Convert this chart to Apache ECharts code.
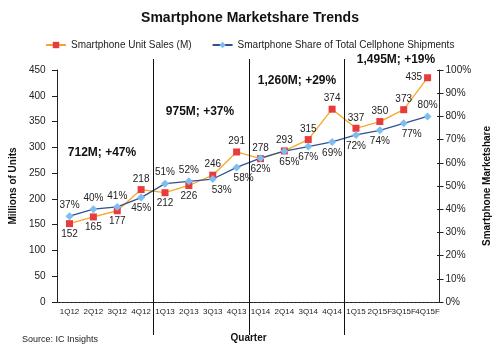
<!DOCTYPE html>
<html>
<head>
<meta charset="utf-8">
<style>
  html, body { margin: 0; padding: 0; background: #fff; }
  #chart { width: 500px; height: 354px; }
</style>
<script src="https://cdn.jsdelivr.net/npm/echarts@6/dist/echarts.min.js"></script>
</head>
<body>
<div id="chart"></div>
<script>
const quarters = ["1Q12", "2Q12", "3Q12", "4Q12", "1Q13", "2Q13", "3Q13", "4Q13",
  "1Q14", "2Q14", "3Q14", "4Q14", "1Q15", "2Q15F", "3Q15F", "4Q15F"];
const unitSales = [152, 165, 177, 218, 212, 226, 246, 291, 278, 293, 315, 374, 337, 350, 373, 435];
const shareOfShipments = [37, 40, 41, 45, 51, 52, 53, 58, 62, 65, 67, 69, 72, 74, 77, 80];
const yearTotals = ["712M; +47%", "975M; +37%", "1,260M; +29%", "1,495M; +19%"];

const font = "Liberation Sans, Arial, sans-serif";
const chart = echarts.init(document.getElementById("chart"));

// which labels sit below the point (the rest go above)
const salesBelow = [0, 1, 2, 4, 5];
const shareAbove = [0, 1, 2, 4, 5, 15];
const shareShift = { 6: 9, 7: 7, 9: 5, 14: 8 };

const salesData = unitSales.map((v, i) => ({
  value: v,
  label: { position: i === 15 ? "left" : salesBelow.includes(i) ? "bottom" : "top" },
}));
const shareData = shareOfShipments.map((v, i) => ({
  value: v,
  label: {
    position: shareAbove.includes(i) ? "top" : "bottom",
    offset: [shareShift[i] || 0, 0],
  },
}));

const labelStyle = { show: true, fontSize: 10, color: "#222", fontFamily: font, distance: 2 };
const gridBox = { left: 52, right: 59, top: 70, bottom: 52 };

chart.setOption({
  animation: false,
  textStyle: { fontFamily: font },
  title: {
    text: "Smartphone Marketshare Trends",
    left: "center",
    top: 6,
    textStyle: { fontSize: 14, fontWeight: "bold", color: "#111", fontFamily: font },
  },
  legend: {
    top: 35,
    left: 40,
    itemWidth: 20,
    itemHeight: 8,
    itemGap: 20,
    itemTextGap: 3,
    textStyle: { fontSize: 10, color: "#222", fontFamily: font },
  },
  grid: [gridBox, gridBox],
  xAxis: [
    {
      type: "category",
      data: quarters,
      name: "Quarter",
      nameLocation: "middle",
      nameGap: 31,
      nameTextStyle: { fontSize: 10, fontWeight: "bold", color: "#111" },
      axisLine: { lineStyle: { color: "#222", type: [3, 1] } },
      axisTick: { length: 4, lineStyle: { color: "#222" } },
      axisLabel: { interval: 0, fontSize: 8, color: "#222", margin: 6 },
    },
    {
      type: "category",
      gridIndex: 1,
      data: quarters,
      axisLine: { show: false },
      axisTick: { inside: true, length: 2, lineStyle: { color: "#222" } },
      axisLabel: { show: false },
    },
  ],
  yAxis: [
    {
      type: "value",
      min: 0,
      max: 450,
      interval: 50,
      name: "Millions of Units",
      nameLocation: "middle",
      nameGap: 37,
      nameTextStyle: { fontSize: 10, fontWeight: "bold", color: "#111" },
      axisLine: { show: true, lineStyle: { color: "#222" } },
      axisTick: { show: true, length: 4, lineStyle: { color: "#222" } },
      axisLabel: { fontSize: 10, color: "#222", margin: 12 },
      splitLine: { show: false },
    },
    {
      type: "value",
      position: "right",
      min: 0,
      max: 100,
      interval: 10,
      name: "Smartphone Marketshare",
      nameLocation: "middle",
      nameGap: 38,
      nameTextStyle: { fontSize: 10, fontWeight: "bold", color: "#111" },
      axisLine: { show: true, lineStyle: { color: "#222" } },
      axisTick: { show: true, length: 4, lineStyle: { color: "#222" } },
      axisLabel: { fontSize: 10, color: "#222", margin: 6, formatter: "{value}%" },
      splitLine: { show: false },
    },
    {
      type: "value",
      gridIndex: 1,
      min: 0,
      max: 450,
      interval: 50,
      axisLine: { show: false },
      axisTick: { show: true, inside: true, length: 4, lineStyle: { color: "#222" } },
      axisLabel: { show: false },
      splitLine: { show: false },
    },
    {
      type: "value",
      gridIndex: 1,
      position: "right",
      min: 0,
      max: 100,
      interval: 10,
      axisLine: { show: false },
      axisTick: { show: true, inside: true, length: 4, lineStyle: { color: "#222" } },
      axisLabel: { show: false },
      splitLine: { show: false },
    },
  ],
  series: [
    {
      name: "Smartphone Unit Sales (M)",
      type: "line",
      data: salesData,
      symbol: "rect",
      symbolSize: 7,
      lineStyle: { color: "#F7A628", width: 1.3 },
      itemStyle: { color: "#E83B3B" },
      label: labelStyle,
    },
    {
      name: "Smartphone Share of Total Cellphone Shipments",
      type: "line",
      yAxisIndex: 1,
      data: shareData,
      symbol: "diamond",
      symbolSize: 8,
      lineStyle: { color: "#2F5291", width: 1.3 },
      itemStyle: { color: "#7DBDF0" },
      label: Object.assign({}, labelStyle, { formatter: "{c}%" }),
    },
  ],
});

// year separators sit between 4Qxx and 1Qxx, text boxes for each year
const toX = (i) => chart.convertToPixel({ xAxisIndex: 0 }, i);
const separators = [3, 7, 11].map((i) => {
  const x = Math.round((toX(i) + toX(i + 1)) / 2) + 0.5;
  return {
    type: "line",
    shape: { x1: x, y1: 59, x2: x, y2: 335 },
    style: { stroke: "#111", lineWidth: 1 },
    z: 10,
  };
});
const notePos = [[102, 153], [200, 112], [297, 81], [396, 60]];
const notes = yearTotals.map((t, i) => ({
  type: "text",
  x: notePos[i][0],
  y: notePos[i][1],
  style: {
    text: t,
    fontSize: 12,
    fontWeight: "bold",
    fontFamily: font,
    fill: "#111",
    align: "center",
    verticalAlign: "middle",
  },
  z: 10,
}));

chart.setOption({
  graphic: separators.concat(notes, [
    {
      type: "text",
      x: 22,
      y: 340,
      style: { text: "Source: IC Insights", fontSize: 9, fontFamily: font, fill: "#222", verticalAlign: "middle" },
    },
  ]),
});
</script>
</body>
</html>
